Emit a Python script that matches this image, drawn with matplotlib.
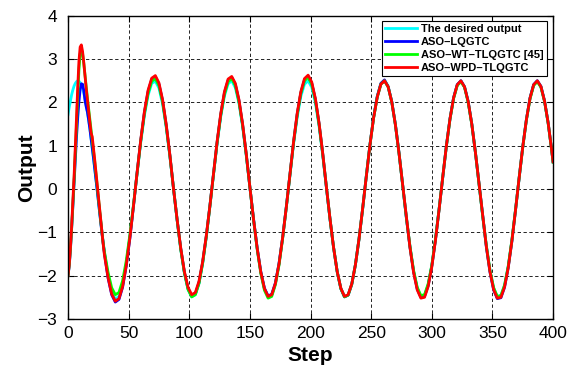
import matplotlib
matplotlib.use("Agg")
from matplotlib import pyplot as plt

plt.rcParams["font.family"] = ["Liberation Sans", "DejaVu Sans"]

# sample steps: every step during the transient, then every 3 steps
steps = list(range(0, 31)) + list(range(33, 400, 3)) + [400]

desired = [
    1.72, 1.89, 2.04, 2.18, 2.29, 2.38, 2.44, 2.48, 2.50, 2.49, 2.46, 2.40, 2.32, 2.22, 2.09, 1.94,
    1.78, 1.60, 1.40, 1.18, 0.96, 0.72, 0.48, 0.24, -0.01, -0.27, -0.52, -0.76, -1.00, -1.23, -1.44,
    -2.00, -2.38, -2.54, -2.48, -2.21, -1.73, -1.10, -0.38, 0.37, 1.08, 1.70, 2.16, 2.44, 2.49, 2.33,
    1.96, 1.42, 0.75, 0.01, -0.72, -1.40, -1.94, -2.32, -2.49, -2.44, -2.18, -1.72, -1.11, -0.40, 0.35,
    1.06, 1.68, 2.15, 2.43, 2.50, 2.34, 1.98, 1.44, 0.77, 0.04, -0.70, -1.38, -1.93, -2.31, -2.49, -2.45,
    -2.19, -1.73, -1.13, -0.42, 0.32, 1.04, 1.66, 2.14, 2.42, 2.50, 2.35, 1.99, 1.46, 0.79, 0.06, -0.68,
    -1.35, -1.91, -2.30, -2.49, -2.45, -2.20, -1.75, -1.15, -0.45, 0.30, 1.02, 1.64, 2.12, 2.42, 2.50,
    2.36, 2.01, 1.48, 0.82, 0.09, -0.65, -1.33, -1.90, -2.29, -2.48, -2.46, -2.21, -1.77, -1.17, -0.47,
    0.27, 0.99, 1.62, 2.11, 2.41, 2.50, 2.36, 2.02, 1.50, 0.84, 0.11, -0.63, -1.31, -1.88, -2.28, -2.48,
    -2.46, -2.22, -1.79, -1.19, -0.49, 0.25, 0.97, 1.60, 2.10, 2.41, 2.50, 2.37, 2.03, 1.52, 0.87, 0.63,
]

aso_lqgtc = [
    -2.00, -1.78, -1.40, -0.92, -0.40, 0.15, 0.70, 1.20, 1.65, 2.02, 2.30, 2.43, 2.42, 2.28, 2.05, 1.90,
    1.78, 1.60, 1.40, 1.18, 0.96, 0.72, 0.48, 0.24, -0.01, -0.27, -0.53, -0.78, -1.03, -1.26, -1.48,
    -2.05, -2.44, -2.61, -2.55, -2.27, -1.78, -1.14, -0.39, 0.39, 1.13, 1.77, 2.25, 2.53, 2.59, 2.42,
    2.04, 1.47, 0.78, 0.01, -0.72, -1.38, -1.93, -2.30, -2.47, -2.42, -2.16, -1.70, -1.10, -0.39, 0.36,
    1.09, 1.73, 2.22, 2.51, 2.58, 2.41, 2.04, 1.48, 0.80, 0.04, -0.69, -1.36, -1.91, -2.29, -2.47, -2.43,
    -2.17, -1.72, -1.12, -0.42, 0.34, 1.08, 1.73, 2.22, 2.52, 2.60, 2.44, 2.07, 1.52, 0.83, 0.06, -0.68,
    -1.35, -1.91, -2.30, -2.49, -2.45, -2.20, -1.75, -1.15, -0.45, 0.30, 1.02, 1.66, 2.14, 2.44, 2.52,
    2.37, 2.02, 1.49, 0.83, 0.09, -0.66, -1.34, -1.91, -2.31, -2.50, -2.48, -2.23, -1.78, -1.18, -0.47,
    0.27, 0.99, 1.62, 2.11, 2.41, 2.50, 2.36, 2.02, 1.50, 0.84, 0.11, -0.64, -1.34, -1.92, -2.33, -2.53,
    -2.51, -2.27, -1.82, -1.22, -0.50, 0.25, 0.97, 1.60, 2.10, 2.41, 2.50, 2.37, 2.03, 1.52, 0.87, 0.63,
]

aso_wt = [
    -2.00, -1.75, -1.37, -0.90, -0.37, 0.20, 0.82, 1.48, 2.15, 2.75, 3.12, 3.22, 3.12, 2.90, 2.63, 2.36,
    2.10, 1.86, 1.62, 1.38, 1.14, 0.90, 0.64, 0.37, 0.10, -0.18, -0.46, -0.74, -1.00, -1.25, -1.45,
    -1.92, -2.28, -2.44, -2.39, -2.12, -1.66, -1.06, -0.36, 0.38, 1.11, 1.74, 2.21, 2.49, 2.55, 2.39,
    2.01, 1.45, 0.77, 0.01, -0.72, -1.40, -1.94, -2.32, -2.49, -2.44, -2.18, -1.72, -1.11, -0.40, 0.35,
    1.08, 1.71, 2.19, 2.48, 2.55, 2.39, 2.01, 1.47, 0.79, 0.04, -0.71, -1.39, -1.95, -2.34, -2.52, -2.48,
    -2.21, -1.76, -1.14, -0.43, 0.33, 1.07, 1.71, 2.21, 2.50, 2.58, 2.42, 2.05, 1.50, 0.82, 0.06, -0.68,
    -1.35, -1.91, -2.30, -2.49, -2.45, -2.20, -1.75, -1.15, -0.45, 0.30, 1.02, 1.64, 2.12, 2.42, 2.50,
    2.36, 2.01, 1.48, 0.82, 0.09, -0.65, -1.32, -1.88, -2.27, -2.46, -2.44, -2.19, -1.76, -1.16, -0.47,
    0.27, 0.98, 1.61, 2.09, 2.39, 2.48, 2.35, 2.00, 1.49, 0.84, 0.11, -0.63, -1.31, -1.88, -2.28, -2.48,
    -2.46, -2.22, -1.79, -1.19, -0.49, 0.25, 0.96, 1.59, 2.08, 2.39, 2.48, 2.35, 2.02, 1.51, 0.86, 0.62,
]

aso_wpd = [
    -2.00, -1.75, -1.35, -0.85, -0.30, 0.30, 0.95, 1.65, 2.35, 2.95, 3.28, 3.33, 3.18, 2.92, 2.62, 2.32,
    2.05, 1.80, 1.55, 1.30, 1.20, 0.95, 0.68, 0.40, 0.12, -0.16, -0.44, -0.72, -1.00, -1.27, -1.52,
    -2.04, -2.42, -2.59, -2.53, -2.25, -1.77, -1.13, -0.39, 0.39, 1.14, 1.79, 2.28, 2.56, 2.62, 2.45,
    2.06, 1.49, 0.79, 0.01, -0.71, -1.37, -1.91, -2.27, -2.44, -2.39, -2.13, -1.68, -1.08, -0.39, 0.36,
    1.11, 1.75, 2.25, 2.54, 2.60, 2.44, 2.06, 1.50, 0.81, 0.04, -0.70, -1.37, -1.92, -2.30, -2.48, -2.44,
    -2.18, -1.73, -1.12, -0.42, 0.34, 1.09, 1.75, 2.25, 2.55, 2.63, 2.47, 2.09, 1.53, 0.84, 0.07, -0.67,
    -1.35, -1.91, -2.29, -2.48, -2.44, -2.19, -1.75, -1.15, -0.44, 0.30, 1.02, 1.64, 2.12, 2.42, 2.50,
    2.36, 2.01, 1.48, 0.82, 0.09, -0.66, -1.35, -1.93, -2.33, -2.52, -2.50, -2.25, -1.80, -1.19, -0.48,
    0.27, 0.99, 1.62, 2.11, 2.41, 2.50, 2.36, 2.02, 1.50, 0.84, 0.11, -0.64, -1.33, -1.91, -2.32, -2.52,
    -2.50, -2.26, -1.82, -1.21, -0.50, 0.25, 0.97, 1.60, 2.10, 2.41, 2.50, 2.37, 2.03, 1.52, 0.87, 0.63,
]

fig = plt.figure(figsize=(5.74, 3.77), dpi=100)
ax = fig.add_axes([0.1185, 0.154, 0.845, 0.804])

ax.plot(steps, desired, color="#00ffff", lw=2, label="The desired output")
ax.plot(steps, aso_lqgtc, color="b", lw=2, label="ASO\u2013LQGTC")
ax.plot(steps, aso_wt, color="#00ff00", lw=2, label="ASO\u2013WT\u2013TLQGTC [45]")
ax.plot(steps, aso_wpd, color="r", lw=2, label="ASO\u2013WPD\u2013TLQGTC")

ax.set_xlim(0, 400)
ax.set_ylim(-3, 4)
ax.set_xticks(range(0, 401, 50))
ax.set_yticks(range(-3, 5))
ax.grid(True, color="k", linestyle=(0, (4, 3)), lw=0.6)
ax.tick_params(direction="in", top=True, right=True, labelsize=12.5, length=4)
ax.tick_params(axis="y", pad=8)
ax.tick_params(axis="x", pad=5)
for s in ax.spines.values():
    s.set_linewidth(1.0)

ax.set_xlabel("Step", fontsize=15, fontweight="bold")
ax.set_ylabel("Output", fontsize=15, fontweight="bold", labelpad=1)

leg = ax.legend(loc="upper right", bbox_to_anchor=(0.9876, 0.9835), borderaxespad=0,
                prop={"size": 8, "weight": "bold"}, fancybox=False, framealpha=1,
                edgecolor="k", handlelength=2.9, handletextpad=0.35, labelspacing=0.25,
                borderpad=0.3)
leg.get_frame().set_linewidth(0.8)

fig.savefig("out.png", dpi=100)
